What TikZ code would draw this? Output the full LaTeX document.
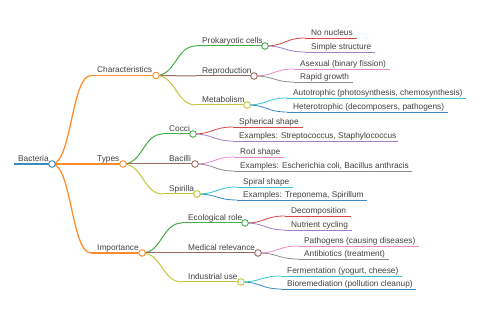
\documentclass[tikz,border=0pt]{standalone}
\usepackage{fontspec}
\setmainfont{Liberation Sans}
\usetikzlibrary{calc}
\definecolor{cblue}{HTML}{3A8AC4}
\definecolor{corange}{HTML}{FF8C2A}
\definecolor{cgreen}{HTML}{44AF44}
\definecolor{cred}{HTML}{DC4546}
\definecolor{cpurple}{HTML}{A07FC8}
\definecolor{cbrown}{HTML}{9A6A60}
\definecolor{cpink}{HTML}{E98BCB}
\definecolor{cgray}{HTML}{8C8C8C}
\definecolor{colive}{HTML}{C4C53C}
\definecolor{ccyan}{HTML}{35C6D5}
\definecolor{textc}{HTML}{404040}
\tikzset{
  mmtext/.style={anchor=base west, inner sep=0pt, text=textc, font=\fontsize{8.3}{10}\selectfont},
  circ/.style={circle, fill=white, line width=0.9pt, minimum size=6.6pt, inner sep=0pt},
}
\newcommand\mmlink[4]{\draw[#3,line width=#4] let \p1=(#1), \p2=(#2) in (#1) .. controls ({(\x1+\x2)/2},\y1) and ({(\x1+\x2)/2},\y2) .. (#2);}
\newcommand\mmitem[7]{%
  \coordinate (#1-s) at ({#2-6},#3);
  \coordinate (#1-e) at (#4,#3);
  \node[mmtext] (#1) at (#2,{#3-2.9}) {#5};
  \draw[#6,line width=#7] (#1-s) -- (#1-e);
}
\begin{document}
\begin{tikzpicture}[x=1pt,y=-1pt]
\useasboundingbox (0,0) rectangle (480,320);
% root
\coordinate (root-s) at (14,164);
\coordinate (root-e) at (52,164);
\node[mmtext] (root) at (18,161.1) {Bacteria};
\draw[cblue,line width=1.6pt] (root-s) -- (root-e);
% level 1
\mmitem{char}{97}{75.5}{156}{Characteristics}{corange}{1.25pt}
\mmitem{types}{97}{164}{123}{Types}{corange}{1.25pt}
\mmitem{imp}{97}{253}{142}{Importance}{corange}{1.25pt}
% level 2
\mmitem{prok}{202}{46}{265}{Prokaryotic cells}{cgreen}{1pt}
\mmitem{repro}{202}{76}{254}{Reproduction}{cbrown}{1pt}
\mmitem{metab}{202}{105}{247}{Metabolism}{colive}{1pt}
\mmitem{cocci}{169}{134}{193}{Cocci}{cgreen}{1pt}
\mmitem{bacilli}{169}{164}{195}{Bacilli}{cbrown}{1pt}
\mmitem{spir}{169}{194}{197}{Spirilla}{colive}{1pt}
\mmitem{eco}{188}{223}{245}{Ecological role}{cgreen}{1pt}
\mmitem{med}{188}{253}{258}{Medical relevance}{cbrown}{1pt}
\mmitem{ind}{188}{282}{241}{Industrial use}{colive}{1pt}
% level 3
\mmitem{nonuc}{311}{38}{357}{No nucleus}{cred}{0.8pt}
\mmitem{simple}{311}{52}{375}{Simple structure}{cpurple}{0.8pt}
\mmitem{asex}{300}{69}{390}{Asexual (binary fission)}{cpink}{0.8pt}
\mmitem{rapid}{300}{82}{353}{Rapid growth}{cgray}{0.8pt}
\mmitem{auto}{293}{98}{466}{Autotrophic (photosynthesis, chemosynthesis)}{ccyan}{0.8pt}
\mmitem{hetero}{293}{112}{448}{Heterotrophic (decomposers, pathogens)}{cblue}{0.8pt}
\mmitem{sph}{239}{127}{303}{Spherical shape}{cred}{0.8pt}
\mmitem{exs}{239}{141}{398}{Examples: Streptococcus, Staphylococcus}{cpurple}{0.8pt}
\mmitem{rod}{240}{157}{284}{Rod shape}{cpink}{0.8pt}
\mmitem{exb}{240}{171}{412}{Examples: Escherichia coli, Bacillus anthracis}{cgray}{0.8pt}
\mmitem{spi}{243}{187}{293}{Spiral shape}{ccyan}{0.8pt}
\mmitem{exsp}{243}{200}{367}{Examples: Treponema, Spirillum}{cblue}{0.8pt}
\mmitem{dec}{291}{216}{351}{Decomposition}{cred}{0.8pt}
\mmitem{nut}{291}{230}{352}{Nutrient cycling}{cpurple}{0.8pt}
\mmitem{path}{304}{246}{419}{Pathogens (causing diseases)}{cpink}{0.8pt}
\mmitem{anti}{304}{259}{389}{Antibiotics (treatment)}{cgray}{0.8pt}
\mmitem{ferm}{287}{276}{402}{Fermentation (yogurt, cheese)}{ccyan}{0.8pt}
\mmitem{bio}{287}{289}{416}{Bioremediation (pollution cleanup)}{cblue}{0.8pt}
% links
\mmlink{root-e}{char-s}{corange}{1.25pt}
\mmlink{root-e}{types-s}{corange}{1.25pt}
\mmlink{root-e}{imp-s}{corange}{1.25pt}
\mmlink{char-e}{prok-s}{cgreen}{1pt}
\mmlink{char-e}{repro-s}{cbrown}{1pt}
\mmlink{char-e}{metab-s}{colive}{1pt}
\mmlink{types-e}{cocci-s}{cgreen}{1pt}
\mmlink{types-e}{bacilli-s}{cbrown}{1pt}
\mmlink{types-e}{spir-s}{colive}{1pt}
\mmlink{imp-e}{eco-s}{cgreen}{1pt}
\mmlink{imp-e}{med-s}{cbrown}{1pt}
\mmlink{imp-e}{ind-s}{colive}{1pt}
\mmlink{prok-e}{nonuc-s}{cred}{0.8pt}
\mmlink{prok-e}{simple-s}{cpurple}{0.8pt}
\mmlink{repro-e}{asex-s}{cpink}{0.8pt}
\mmlink{repro-e}{rapid-s}{cgray}{0.8pt}
\mmlink{metab-e}{auto-s}{ccyan}{0.8pt}
\mmlink{metab-e}{hetero-s}{cblue}{0.8pt}
\mmlink{cocci-e}{sph-s}{cred}{0.8pt}
\mmlink{cocci-e}{exs-s}{cpurple}{0.8pt}
\mmlink{bacilli-e}{rod-s}{cpink}{0.8pt}
\mmlink{bacilli-e}{exb-s}{cgray}{0.8pt}
\mmlink{spir-e}{spi-s}{ccyan}{0.8pt}
\mmlink{spir-e}{exsp-s}{cblue}{0.8pt}
\mmlink{eco-e}{dec-s}{cred}{0.8pt}
\mmlink{eco-e}{nut-s}{cpurple}{0.8pt}
\mmlink{med-e}{path-s}{cpink}{0.8pt}
\mmlink{med-e}{anti-s}{cgray}{0.8pt}
\mmlink{ind-e}{ferm-s}{ccyan}{0.8pt}
\mmlink{ind-e}{bio-s}{cblue}{0.8pt}
% circles
\node[circ,draw=cblue] (root-c) at (root-e) {};
\node[circ,draw=corange] (char-c) at (char-e) {};
\node[circ,draw=corange] (types-c) at (types-e) {};
\node[circ,draw=corange] (imp-c) at (imp-e) {};
\node[circ,draw=cgreen] (prok-c) at (prok-e) {};
\node[circ,draw=cbrown] (repro-c) at (repro-e) {};
\node[circ,draw=colive] (metab-c) at (metab-e) {};
\node[circ,draw=cgreen] (cocci-c) at (cocci-e) {};
\node[circ,draw=cbrown] (bacilli-c) at (bacilli-e) {};
\node[circ,draw=colive] (spir-c) at (spir-e) {};
\node[circ,draw=cgreen] (eco-c) at (eco-e) {};
\node[circ,draw=cbrown] (med-c) at (med-e) {};
\node[circ,draw=colive] (ind-c) at (ind-e) {};
\end{tikzpicture}
\end{document}
